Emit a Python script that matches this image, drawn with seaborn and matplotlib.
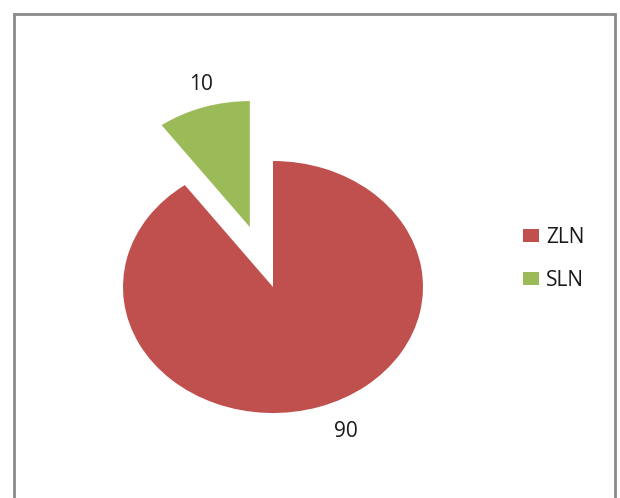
import matplotlib
matplotlib.use("Agg")
import matplotlib.pyplot as plt
import numpy as np
import seaborn as sns
from matplotlib.patches import Rectangle

# Data
categories = ["ZLN", "SLN"]
values = [90, 10]
value_labels = ["90", "10"]

sns.set_style("white")
plt.rcParams["font.family"] = ["Open Sans", "DejaVu Sans"]
colors = sns.color_palette(["#C0504D", "#9BBB59"])

W, H, DPI = 620, 498, 100
fig = plt.figure(figsize=(W / DPI, H / DPI), dpi=DPI)
fig.patch.set_facecolor("white")
ax = fig.add_axes([0, 0, 1, 1])

explode = [0.0, 0.5]
wedges, _ = ax.pie(values, colors=colors, startangle=90, counterclock=False,
                   explode=explode, radius=1.0, center=(0, 0),
                   wedgeprops=dict(linewidth=0))

# Stretch the pie horizontally (Excel-style oval)
ax.set_aspect("auto")
cx_px, cy_px = 273, 287
rx_px, ry_px = 150, 126
ax.set_xlim(-cx_px / rx_px, (W - cx_px) / rx_px)
ax.set_ylim(-(H - cy_px) / ry_px, cy_px / ry_px)
ax.axis("off")

# Value labels outside each wedge
label_dist = [1.21, 1.19]
label_nudge_x = [0.11, 0.04]
for w, txt, ex, d, nx in zip(wedges, value_labels, explode, label_dist, label_nudge_x):
    mid = np.deg2rad((w.theta1 + w.theta2) / 2)
    ox, oy = ex * np.cos(mid), ex * np.sin(mid)
    x = ox + d * np.cos(mid) + nx
    y = oy + d * np.sin(mid)
    ax.text(x, y, txt, ha="center", va="center", fontsize=15, color="#1a1a1a")

leg = fig.legend(wedges, categories, loc="center left",
                 bbox_to_anchor=(523 / W, 1 - 259 / H), frameon=False,
                 fontsize=15, handlelength=0.75, handleheight=0.6,
                 handletextpad=0.35, labelspacing=1.05,
                 borderpad=0, borderaxespad=0)
for t in leg.get_texts():
    t.set_color("#1a1a1a")

# Chart-area border (bottom edge runs past the figure)
fig.patches.append(Rectangle((14 / W, -0.05), (615 - 14) / W, 1.05 - 14 / H,
                             transform=fig.transFigure, fill=False,
                             edgecolor="#8a8a8a", linewidth=2.0, clip_on=False))

fig.savefig("out.png", dpi=DPI)
